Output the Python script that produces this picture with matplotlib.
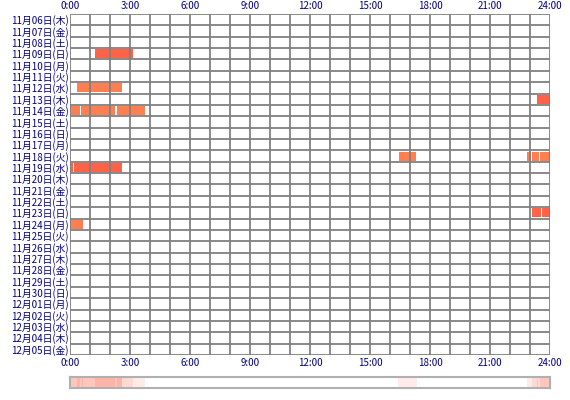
import numpy as np
import matplotlib
matplotlib.use("Agg")
import matplotlib.pyplot as plt
import datetime as dt

plt.rcParams['font.family'] = ['Noto Sans CJK JP', 'DejaVu Sans']

start_date = dt.date(2014, 11, 6)
n_days = 30
weekdays = ['月', '火', '水', '木', '金', '土', '日']

# (day index from 11/06, start hour, end hour, colour)
sleep_rows = [3, 6, 7, 8, 8, 8, 12, 12, 12, 12, 13, 13, 17, 17, 18]
sleep_start = [1.25, 0.35, 23.35, 0.0, 0.55, 2.35, 16.45, 22.85, 23.1, 23.5, 0.0, 0.2, 23.1, 23.6, 0.0]
sleep_end = [3.15, 2.6, 24.0, 0.5, 2.25, 3.75, 17.3, 23.05, 23.45, 24.0, 0.15, 2.6, 23.55, 24.0, 0.65]
sleep_color = ['#ff6347', '#ff7f50', '#ff6347', '#ff7f50', '#ff7f50', '#ff7f50',
               '#ff7f50', '#ff7f50', '#ff7f50', '#ff7f50', '#ff6347', '#ff6347',
               '#ff6347', '#ff6347', '#ff7f50']

tick_hours = [0, 3, 6, 9, 12, 15, 18, 21, 24]
navy = '#000080'
grid = '#808080'

fig = plt.figure(figsize=(5.7, 4.0), dpi=100)
ax = fig.add_axes([70 / 570, 45 / 400, 480 / 570, 341 / 400])

for r, s, e, c in zip(sleep_rows, sleep_start, sleep_end, sleep_color):
    ax.add_patch(plt.Rectangle((s, r + 0.1), e - s, 0.8, color=c, lw=0, zorder=1))

for h in range(25):
    ax.axvline(h, color=grid, lw=1.3, zorder=2)
for d in range(n_days + 1):
    ax.axhline(d, color=grid, lw=1.3, zorder=2)

ax.set_xlim(0, 24)
ax.set_ylim(n_days, 0)
for sp in ax.spines.values():
    sp.set_visible(False)

labels = []
for i in range(n_days):
    d = start_date + dt.timedelta(days=i)
    labels.append('{}月{:02d}日({})'.format(d.month, d.day, weekdays[d.weekday()]))
ax.set_yticks(np.arange(n_days) + 0.5)
ax.set_yticklabels(labels, fontsize=7, color=navy)
ax.set_xticks(tick_hours)
ax.set_xticklabels(['{}:00'.format(h) for h in tick_hours], fontsize=7, color=navy)
ax.tick_params(length=0, pad=2, labeltop=True, labelbottom=True)
ax.tick_params(axis='y', pad=1)

# summary strip
ax2 = fig.add_axes([70 / 570, 12 / 400, 480 / 570, 11 / 400])
bins = np.linspace(0, 24, 24 * 12 + 1)
mid = (bins[:-1] + bins[1:]) / 2
counts = np.zeros(len(mid))
for s, e in zip(sleep_start, sleep_end):
    counts += (mid >= s) & (mid < e)
for x0, x1, cnt in zip(bins[:-1], bins[1:], counts):
    if cnt > 0:
        ax2.axvspan(x0, x1, color='#ff6347', alpha=min(0.12 * cnt, 0.5), lw=0)
ax2.set_xlim(0, 24)
ax2.set_xticks([])
ax2.set_yticks([])
for sp in ax2.spines.values():
    sp.set_color('#b0b0b0')
    sp.set_linewidth(1.5)

fig.savefig('out.png', dpi=100)
